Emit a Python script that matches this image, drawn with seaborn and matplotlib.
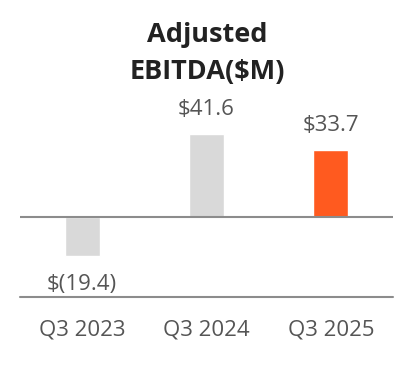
import matplotlib
matplotlib.use("Agg")
import matplotlib.pyplot as plt
import pandas as pd
import seaborn as sns

# Chart data
quarters = ["Q3 2023", "Q3 2024", "Q3 2025"]
ebitda = [-19.4, 41.6, 33.7]
value_labels = ["$(19.4)", "$41.6", "$33.7"]
bar_colors = ["#d9d9d9", "#d9d9d9", "#ff5a1f"]

df = pd.DataFrame({"quarter": quarters, "ebitda": ebitda})

sns.set_style("white")
plt.rcParams["font.family"] = ["Open Sans", "DejaVu Sans"]

fig = plt.figure(figsize=(4.12, 3.84), dpi=100)
ax = fig.add_axes([20 / 412, 87 / 384, 373 / 412, 200 / 384])

sns.barplot(data=df, x="quarter", y="ebitda", hue="quarter",
            palette=bar_colors, width=0.28, legend=False, ax=ax,
            saturation=1)

ax.set_xlim(-0.5, 2.5)
ax.set_ylim(-40, 60)

# zero line and baseline
ax.axhline(0, color="#8c8c8c", lw=1.5, zorder=3)
ax.axhline(-40, color="#8c8c8c", lw=1.5, zorder=3, clip_on=False)

for i, (v, lab) in enumerate(zip(ebitda, value_labels)):
    if v >= 0:
        ax.text(i, v + 12, lab, ha="center", va="center",
                fontsize=16, color="#555555")
    else:
        ax.text(i, v - 14.5, lab, ha="center", va="center",
                fontsize=16, color="#555555")

for s in ax.spines.values():
    s.set_visible(False)
ax.set_yticks([])
ax.set_xlabel("")
ax.set_ylabel("")
ax.tick_params(axis="x", length=0, pad=16, labelsize=16, labelcolor="#555555")

fig.text(207 / 412, 1 - 53 / 384, "Adjusted\nEBITDA($M)", ha="center",
         va="center", fontsize=19.5, fontweight="bold", color="#222222",
         linespacing=1.55)

fig.savefig("out.png", dpi=100)
